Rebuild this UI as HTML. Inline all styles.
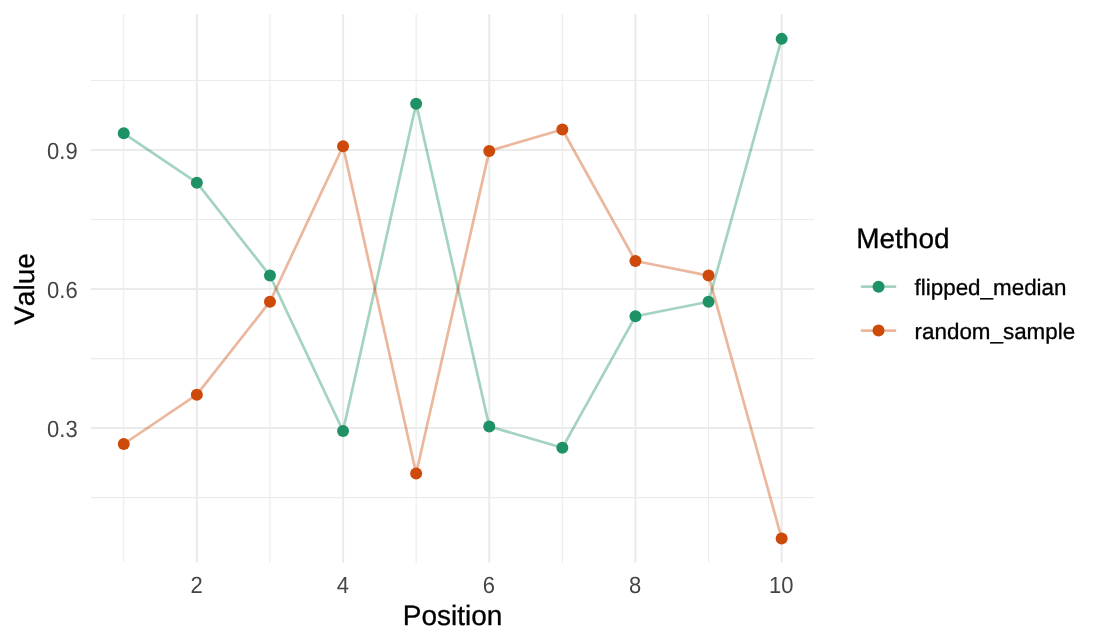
<!DOCTYPE html>
<html lang="en"><head><meta charset="utf-8"><title>Plot</title>
<style>html,body{margin:0;padding:0;background:#fff}svg{display:block}text{font-family:"Liberation Sans",Arial,Helvetica,sans-serif;stroke-width:0.3px;text-rendering:geometricPrecision;font-kerning:none}.k{stroke:#000}.g{stroke:#4D4D4D}</style></head><body>
<svg width="1104" height="644" viewBox="0 0 1104 644">
<rect width="1104" height="644" fill="#fff"/>
<g stroke="#EBEBEB" stroke-width="1.07" fill="none">
<line x1="91.0" x2="814.3" y1="80.5" y2="80.5"/>
<line x1="91.0" x2="814.3" y1="219.55" y2="219.55"/>
<line x1="91.0" x2="814.3" y1="358.6" y2="358.6"/>
<line x1="91.0" x2="814.3" y1="497.65" y2="497.65"/>
<line x1="123.75" x2="123.75" y1="14.0" y2="562.6"/>
<line x1="269.95" x2="269.95" y1="14.0" y2="562.6"/>
<line x1="416.15" x2="416.15" y1="14.0" y2="562.6"/>
<line x1="562.35" x2="562.35" y1="14.0" y2="562.6"/>
<line x1="708.55" x2="708.55" y1="14.0" y2="562.6"/>
</g>
<g stroke="#EBEBEB" stroke-width="2.13" fill="none">
<line x1="91.0" x2="814.3" y1="149.95" y2="149.95"/>
<line x1="91.0" x2="814.3" y1="289.0" y2="289.0"/>
<line x1="91.0" x2="814.3" y1="428.05" y2="428.05"/>
<line x1="196.85" x2="196.85" y1="14.0" y2="562.6"/>
<line x1="343.05" x2="343.05" y1="14.0" y2="562.6"/>
<line x1="489.25" x2="489.25" y1="14.0" y2="562.6"/>
<line x1="635.45" x2="635.45" y1="14.0" y2="562.6"/>
<line x1="781.65" x2="781.65" y1="14.0" y2="562.6"/>
</g>
<polyline points="123.75,133.30 196.85,182.65 269.95,275.60 343.05,431.00 416.15,103.75 489.25,426.40 562.35,447.80 635.45,316.30 708.55,301.70 781.65,38.87" fill="none" stroke="rgba(30,145,101,0.4)" stroke-width="2.7" stroke-linejoin="round" stroke-linecap="butt"/>
<polyline points="123.75,444.00 196.85,394.65 269.95,301.70 343.05,146.30 416.15,473.55 489.25,150.90 562.35,129.50 635.45,261.00 708.55,275.60 781.65,538.43" fill="none" stroke="rgba(205,74,10,0.4)" stroke-width="2.7" stroke-linejoin="round" stroke-linecap="butt"/>
<circle cx="123.75" cy="133.30" r="6" fill="#1E9165"/>
<circle cx="196.85" cy="182.65" r="6" fill="#1E9165"/>
<circle cx="269.95" cy="275.60" r="6" fill="#1E9165"/>
<circle cx="343.05" cy="431.00" r="6" fill="#1E9165"/>
<circle cx="416.15" cy="103.75" r="6" fill="#1E9165"/>
<circle cx="489.25" cy="426.40" r="6" fill="#1E9165"/>
<circle cx="562.35" cy="447.80" r="6" fill="#1E9165"/>
<circle cx="635.45" cy="316.30" r="6" fill="#1E9165"/>
<circle cx="708.55" cy="301.70" r="6" fill="#1E9165"/>
<circle cx="781.65" cy="38.87" r="6" fill="#1E9165"/>
<circle cx="123.75" cy="444.00" r="6" fill="#CD4A0A"/>
<circle cx="196.85" cy="394.65" r="6" fill="#CD4A0A"/>
<circle cx="269.95" cy="301.70" r="6" fill="#CD4A0A"/>
<circle cx="343.05" cy="146.30" r="6" fill="#CD4A0A"/>
<circle cx="416.15" cy="473.55" r="6" fill="#CD4A0A"/>
<circle cx="489.25" cy="150.90" r="6" fill="#CD4A0A"/>
<circle cx="562.35" cy="129.50" r="6" fill="#CD4A0A"/>
<circle cx="635.45" cy="261.00" r="6" fill="#CD4A0A"/>
<circle cx="708.55" cy="275.60" r="6" fill="#CD4A0A"/>
<circle cx="781.65" cy="538.43" r="6" fill="#CD4A0A"/>
<g font-size="22" fill="#444444" text-anchor="end">
<text transform="translate(77.7,159) scale(1,1.065)">0.9</text>
<text transform="translate(77.7,298) scale(1,1.065)">0.6</text>
<text transform="translate(77.7,437) scale(1,1.065)">0.3</text>
</g>
<g font-size="22" fill="#444444" text-anchor="middle">
<text transform="translate(196.55,593) scale(1,1.065)">2</text>
<text transform="translate(342.75,593) scale(1,1.065)">4</text>
<text transform="translate(488.95,593) scale(1,1.065)">6</text>
<text transform="translate(635.15,593) scale(1,1.065)">8</text>
<text transform="translate(781.35,593) scale(1,1.065)">10</text>
</g>
<text x="452.6" y="624.9" class="k" font-size="28" fill="#000" text-anchor="middle">Position</text>
<text transform="translate(34.4,289.0) rotate(-90)" class="k" font-size="28" fill="#000" text-anchor="middle">Value</text>
<text x="856.2" y="248" class="k" font-size="28" fill="#000">Method</text>
<line x1="860.9" x2="896.2" y1="286.7" y2="286.7" stroke="rgba(30,145,101,0.4)" stroke-width="2.7"/>
<circle cx="878.55" cy="286.7" r="6" fill="#1E9165"/>
<text x="914.6" y="294.8" class="k" font-size="22.4" fill="#000">flipped_median</text>
<line x1="860.9" x2="896.2" y1="330.6" y2="330.6" stroke="rgba(205,74,10,0.4)" stroke-width="2.7"/>
<circle cx="878.55" cy="330.6" r="6" fill="#CD4A0A"/>
<text x="914.6" y="338.8" class="k" font-size="22.4" fill="#000">random_sample</text>
</svg></body></html>
